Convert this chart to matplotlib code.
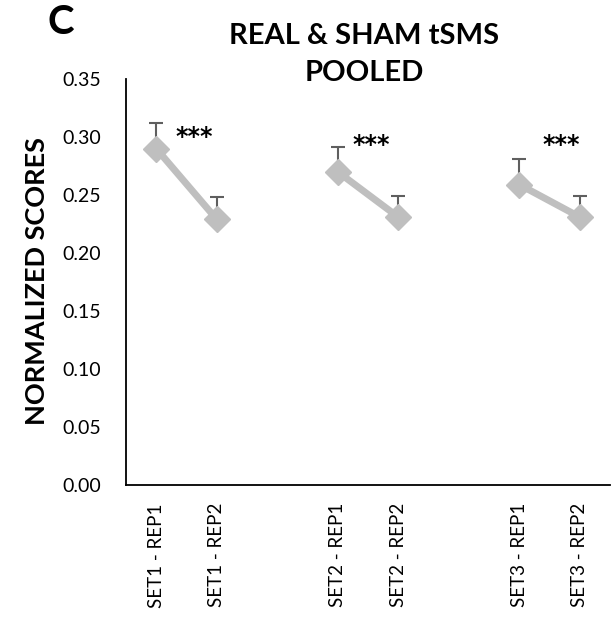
import numpy as np
import matplotlib.pyplot as plt

plt.rcParams['font.family'] = ['Lato', 'DejaVu Sans']

# categories (Excel-style, with blank slots between sets)
categories = ["SET1 - REP1", "SET1 - REP2", "", "SET2 - REP1", "SET2 - REP2", "",
              "SET3 - REP1", "SET3 - REP2"]
sets = [[0, 1], [3, 4], [6, 7]]
means = [[0.290, 0.229], [0.270, 0.231], [0.259, 0.231]]
errs = [[0.022, 0.019], [0.021, 0.018], [0.022, 0.018]]
stars_x = [0.63, 3.56, 6.7]
stars_y = [0.300, 0.293, 0.293]
yticks = [0.00, 0.05, 0.10, 0.15, 0.20, 0.25, 0.30, 0.35]

fig = plt.figure(figsize=(6.16, 6.18), dpi=100)
ax = fig.add_axes([126 / 616, 1 - 485 / 618, 484 / 616, 406 / 618])

for xs, ms, es in zip(sets, means, errs):
    ax.errorbar(xs, ms, yerr=[np.zeros(len(es)), es], fmt='none', ecolor='#5f5f5f',
                elinewidth=1.5, capsize=5, capthick=1.5, zorder=1)
    ax.plot(xs, ms, color='#bfbfbf', lw=5, marker='D', ms=13, zorder=2)

for sx, sy in zip(stars_x, stars_y):
    ax.text(sx, sy, "***", ha='center', va='center', fontsize=17, fontweight='bold',
            family='DejaVu Sans')

ax.set_xlim(-0.5, 7.5)
ax.set_ylim(0, 0.35)
ax.set_yticks(yticks)
ax.set_yticklabels([f"{v:.2f}" for v in yticks], fontsize=14)
ax.set_xticks([0, 1, 3, 4, 6, 7])
ax.set_xticklabels([categories[i] for i in [0, 1, 3, 4, 6, 7]], rotation=90, fontsize=13.5)
ax.tick_params(axis='both', length=0)
ax.tick_params(axis='y', pad=18)
ax.tick_params(axis='x', pad=13)
for s in ['top', 'right']:
    ax.spines[s].set_visible(False)
ax.spines['left'].set_linewidth(1.3)
ax.spines['bottom'].set_linewidth(1.3)

fig.text(37 / 616, 1 - 281 / 618, "NORMALIZED SCORES", rotation=90, ha='center', va='center',
         fontsize=19.5, fontweight='bold')
fig.text(364 / 616, 1 - 36 / 618, "REAL & SHAM tSMS", ha='center', va='center',
         fontsize=21, fontweight='bold')
fig.text(364 / 616, 1 - 73 / 618, "POOLED", ha='center', va='center',
         fontsize=21, fontweight='bold')
fig.text(61 / 616, 1 - 22 / 618, "C", ha='center', va='center', fontsize=29, fontweight='bold')

fig.savefig("out.png", dpi=100)
